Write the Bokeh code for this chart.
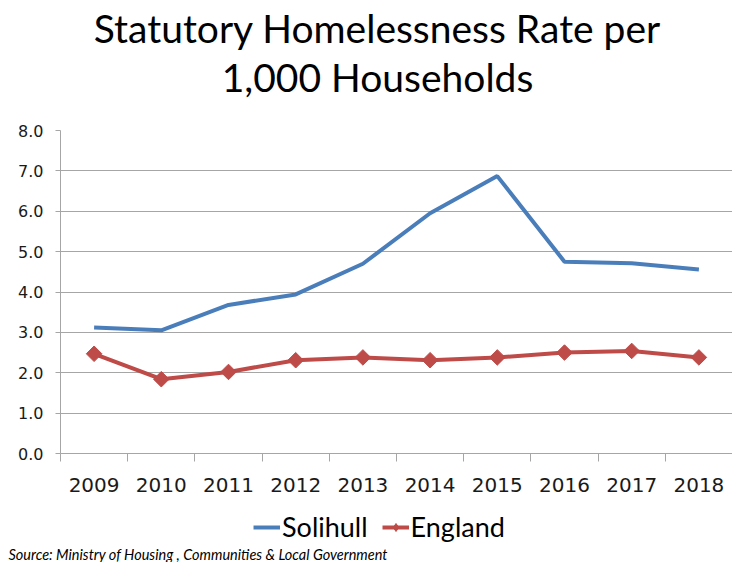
from bokeh.plotting import figure
from bokeh.layouts import column
from bokeh.models import (Range1d, FixedTicker, NumeralTickFormatter, Title,
                          Legend, LegendItem, Label)
from bokeh.embed import file_html
from bokeh.resources import INLINE
import math

title_lines = ["Statutory Homelessness Rate per", "1,000 Households"]
source_text = "Source: Ministry of Housing , Communities & Local Government"
series_names = ["Solihull", "England"]
years = [2009, 2010, 2011, 2012, 2013, 2014, 2015, 2016, 2017, 2018]
solihull = [3.12, 3.05, 3.68, 3.94, 4.70, 5.95, 6.87, 4.75, 4.71, 4.56]
england = [2.47, 1.84, 2.02, 2.31, 2.38, 2.31, 2.38, 2.50, 2.54, 2.38]
y_ticks = [0, 1, 2, 3, 4, 5, 6, 7, 8]

GRID = "#a6a6a6"
BLUE = "#4a7ebb"
RED = "#be4b48"
W = 732


def blank(height):
    f = figure(width=W, height=height, output_backend="svg", toolbar_location=None,
               x_range=Range1d(0, 1), y_range=Range1d(0, 1),
               x_axis_type=None, y_axis_type=None, min_border=0)
    f.outline_line_color = None
    f.xgrid.grid_line_color = None
    f.ygrid.grid_line_color = None
    f.background_fill_color = "white"
    f.border_fill_color = "white"
    return f


# ---- header with the two title lines
head = blank(118)
for txt, yy in zip(title_lines, [91, 42]):
    head.add_layout(Label(x=317, y=yy, x_units="screen", y_units="screen", text=txt,
                          text_align="center", text_baseline="alphabetic",
                          text_font="Lato", text_font_size="39px",
                          text_color="#000000"))

# ---- main chart
p = figure(width=W, height=390, output_backend="svg", toolbar_location=None,
           x_range=Range1d(years[0] - 0.5, years[-1] + 0.5),
           y_range=Range1d(y_ticks[0], y_ticks[-1]),
           min_border_left=60, min_border_right=0,
           min_border_top=12, min_border_bottom=55)
p.outline_line_color = None
p.background_fill_color = "white"
p.border_fill_color = "white"

xa = p.xaxis[0]
xa.ticker = FixedTicker(ticks=years, minor_ticks=[y - 0.5 for y in years] + [years[-1] + 0.5])
xa.major_tick_out = 0
xa.major_tick_in = 0
xa.minor_tick_out = 8
xa.minor_tick_in = 0
xa.minor_tick_line_color = GRID
xa.axis_line_color = GRID
xa.major_label_text_font = "DejaVu Sans"
xa.major_label_text_font_size = "20px"
xa.major_label_text_color = "#1a1a1a"
xa.major_label_standoff = 16

ya = p.yaxis[0]
ya.ticker = FixedTicker(ticks=y_ticks)
ya.formatter = NumeralTickFormatter(format="0.0")
ya.major_tick_out = 5
ya.major_tick_in = 0
ya.minor_tick_line_color = None
ya.major_tick_line_color = GRID
ya.axis_line_color = GRID
ya.major_label_text_font = "DejaVu Sans"
ya.major_label_text_font_size = "16px"
ya.major_label_text_color = "#1a1a1a"
ya.major_label_standoff = 12

p.xgrid.grid_line_color = None
p.ygrid.grid_line_color = GRID
p.ygrid.ticker = FixedTicker(ticks=y_ticks)

p.line(years, solihull, line_color=BLUE, line_width=4)
p.line(years, england, line_color=RED, line_width=4)
p.scatter(years, england, marker="square", angle=math.pi / 4,
          size=11, fill_color=RED, line_color=RED)

# ---- footer: legend and source note
foot = blank(54)
nan = [float("nan")]
k_sol = foot.line(nan, nan, line_color=BLUE, line_width=4)
k_eng = foot.line(nan, nan, line_color=RED, line_width=4)
k_eng_m = foot.scatter(nan, nan, marker="diamond", size=15,
                       fill_color=RED, line_color=RED)
legend = Legend(items=[LegendItem(label=series_names[0], renderers=[k_sol]),
                       LegendItem(label=series_names[1], renderers=[k_eng, k_eng_m])],
                orientation="horizontal", location=(193, 0),
                label_text_font="Lato", label_text_font_size="27px",
                label_text_color="#000000", glyph_width=27, glyph_height=20,
                label_standoff=2, spacing=14, padding=0, margin=0,
                border_line_color=None, background_fill_alpha=0)
foot.add_layout(legend, "center")
foot.add_layout(Title(text=source_text, align="left", offset=-52, standoff=0,
                      text_font="Lato", text_font_size="14.5px", text_font_style="italic",
                      text_color="#000000"), "below")

layout = column(head, p, foot, spacing=0)
open("out.html", "w").write(file_html(layout, INLINE))
